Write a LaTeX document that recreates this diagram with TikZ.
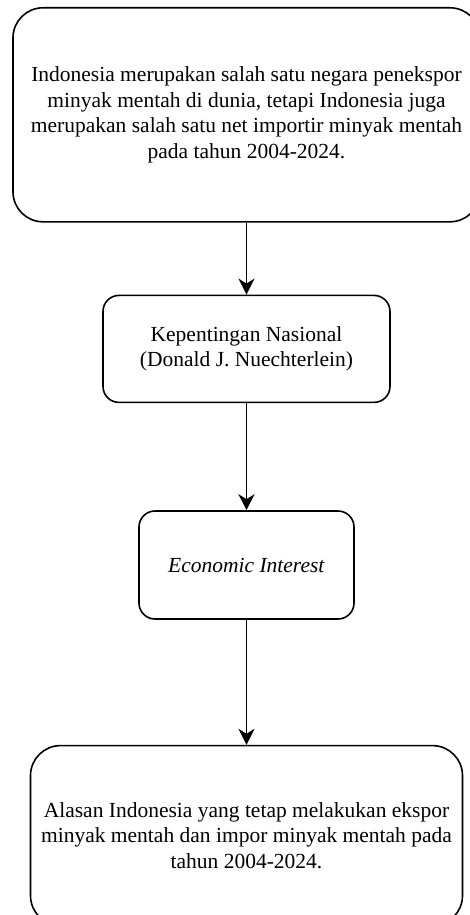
\documentclass[tikz,border=0pt]{standalone}
\usepackage{fontspec}
\setmainfont{Liberation Serif}
\usepackage{tikz}
\usetikzlibrary{positioning}
\usetikzlibrary{arrows.meta}

\tikzset{
	flowbox/.style={draw, line width=1.6pt, align=center, inner sep=0pt,
		font=\fontsize{21.5}{25.5}\selectfont},
	flowarrow/.style={line width=1.6pt, -{Stealth[length=16pt, width=16pt, inset=5pt]}},
}

\begin{document}
\begin{tikzpicture}
	
	% ------------------------------------------------
	% Ensure the dimensions of graphic are appropriate
	\useasboundingbox (0,0) rectangle (470pt,-915pt);
	
	% ------------------------------------------------
	% Relevant coordinates
	\coordinate (Beg) at (246.5pt,-7pt);
	
	% ----------------
	% Boxes
	\node[flowbox, anchor=north, rounded corners=30pt, minimum width=467pt, minimum height=214pt] (Fact) at (Beg)
		{Indonesia merupakan salah satu negara penekspor\\ minyak mentah di dunia, tetapi Indonesia juga\\ merupakan salah satu net importir minyak mentah\\ pada tahun 2004-2024.};
	\node[flowbox, below=72pt of Fact, rounded corners=16pt, minimum width=287pt, minimum height=107pt] (Theory)
		{Kepentingan Nasional\\ (Donald J. Nuechterlein)};
	\node[flowbox, below=107pt of Theory, rounded corners=16pt, minimum width=215pt, minimum height=108pt] (Interest)
		{\textit{Economic Interest}};
	\node[flowbox, below=125pt of Interest, rounded corners=30pt, minimum width=432pt, minimum height=180pt] (Reason)
		{Alasan Indonesia yang tetap melakukan ekspor\\ minyak mentah dan impor minyak mentah pada\\ tahun 2004-2024.};
	
	% ----------------
	% Arrows
	\draw[flowarrow] (Fact) -- (Theory);
	\draw[flowarrow] (Theory) -- (Interest);
	\draw[flowarrow] (Interest) -- (Reason);
	
\end{tikzpicture}
\end{document}
